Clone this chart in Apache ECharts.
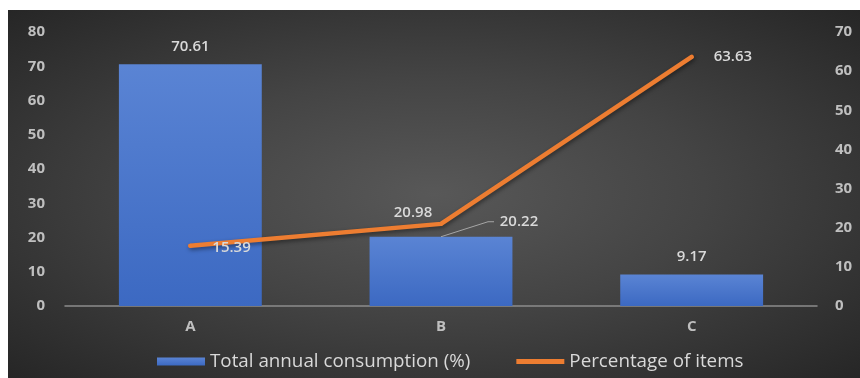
<!DOCTYPE html>
<html><head><meta charset="utf-8">
<script src="https://cdn.jsdelivr.net/npm/echarts@6/dist/echarts.min.js"></script>
<style>
html,body{margin:0;padding:0;background:#fff;}
#c{position:absolute;left:8px;top:10px;width:852px;height:368px;
background:radial-gradient(ellipse at 50% 50%, #585858 0%, #444 45%, #262626 100%);}
</style></head>
<body><div id="c"></div>
<script>
const categories = ['A', 'B', 'C'];
const consumption = [70.61, 20.22, 9.17];
const itemsPct = [15.39, 20.98, 63.63];
const leftTicks = {min: 0, max: 80, interval: 10};
const rightTicks = {min: 0, max: 70, interval: 10};

const chart = echarts.init(document.getElementById('c'), null, {renderer: 'canvas'});
const labelColor = '#bfbfbf';
const font = 'Open Sans';
chart.setOption({
  backgroundColor: 'transparent',
  animation: false,
  grid: {left: 57, right: 43, top: 22, bottom: 72, containLabel: false},
  legend: {
    bottom: 2, left: 144, itemGap: 46, itemWidth: 48, itemHeight: 8,
    textStyle: {color: '#d9d9d9', fontSize: 18.8, fontFamily: font},
    data: [
      {name: 'Total annual consumption (%)', icon: 'rect'},
      {name: 'Percentage of items', icon: 'path://M0,0 L48,0 L48,5 L0,5 Z', itemStyle: {color: '#ED7D31'}}
    ]
  },
  xAxis: {
    type: 'category', data: categories,
    axisLine: {lineStyle: {color: '#8c8c8c', width: 1.5}},
    axisTick: {show: false},
    axisLabel: {color: labelColor, fontSize: 15, fontWeight: 'bold', fontFamily: font, margin: 13}
  },
  yAxis: [
    {type: 'value', min: leftTicks.min, max: leftTicks.max, interval: leftTicks.interval,
     splitLine: {show: false}, axisLine: {show: false}, axisTick: {show: false},
     axisLabel: {color: labelColor, fontSize: 15, fontWeight: 'bold', fontFamily: font, margin: 20}},
    {type: 'value', min: rightTicks.min, max: rightTicks.max, interval: rightTicks.interval,
     splitLine: {show: false}, axisLine: {show: false}, axisTick: {show: false},
     axisLabel: {color: labelColor, fontSize: 15, fontWeight: 'bold', fontFamily: font, margin: 18}}
  ],
  series: [
    {
      name: 'Total annual consumption (%)', type: 'bar', yAxisIndex: 0,
      barCategoryGap: '43%',
      itemStyle: {color: new echarts.graphic.LinearGradient(0, 0, 0, 1, [
        {offset: 0, color: '#5a84d4'}, {offset: 1, color: '#3c69c2'}])},
      label: {show: true, position: 'top', distance: 10, color: '#d9d9d9',
        fontSize: 15, fontWeight: 600, fontFamily: font},
      labelLayout: function (p) {
        if (p.dataIndex === 1) return {dx: 78, dy: 2};
        return {};
      },
      data: consumption
    },
    {
      name: 'Percentage of items', type: 'line', yAxisIndex: 1,
      symbol: 'circle', symbolSize: 4, showSymbol: true,
      itemStyle: {color: '#ED7D31'},
      lineStyle: {color: '#ED7D31', width: 4.5, cap: 'round', join: 'round',
        shadowColor: 'rgba(0,0,0,0.45)', shadowBlur: 4, shadowOffsetX: 1, shadowOffsetY: 2},
      label: {show: true, color: '#d9d9d9', fontSize: 15, fontWeight: 600, fontFamily: font},
      data: [
        {value: itemsPct[0], label: {position: 'right', distance: 20, offset: [0, 2]}},
        {value: itemsPct[1], label: {position: 'top', distance: 2, offset: [-28, 0]}},
        {value: itemsPct[2], label: {position: 'right', distance: 20}}
      ]
    }
  ]
});
// leader line for the B bar's label, anchored to the bar top via the library's scales
const pB = chart.convertToPixel({xAxisIndex: 0, yAxisIndex: 0}, [categories[1], consumption[1]]);
chart.setOption({
  graphic: [{
    type: 'polyline', silent: true, z: 5,
    shape: {points: [[pB[0], pB[1]], [pB[0] + 47, pB[1] - 15], [pB[0] + 53, pB[1] - 15]]},
    style: {stroke: '#a6a6a6', lineWidth: 1, fill: null}
  }]
});
</script></body></html>
